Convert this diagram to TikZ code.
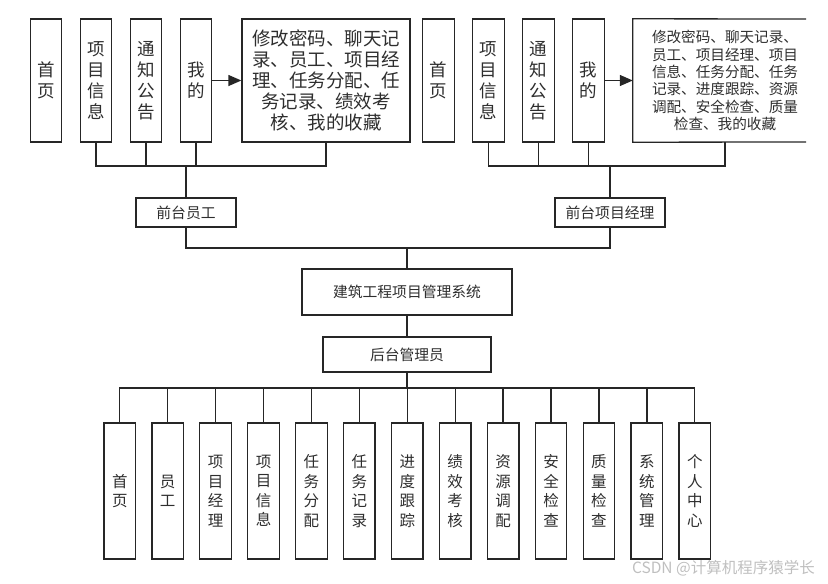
\documentclass[tikz,border=0pt]{standalone}
\usepackage{fontspec}
\setmainfont{Noto Sans CJK SC}
\usetikzlibrary{arrows.meta}
\definecolor{ln}{HTML}{262626}
\definecolor{tx}{HTML}{2E2E2E}
\tikzset{
  vbox/.style={draw=ln, line width=1.3pt, fill=white, text=tx, minimum width=31.5pt, minimum height=123pt, inner sep=0pt, align=center, font=\fontsize{17.5pt}{21pt}\selectfont},
  bbox/.style={draw=ln, line width=1.3pt, fill=white, text=tx, minimum width=31.5pt, minimum height=136pt, inner sep=0pt, align=center, font=\fontsize{15.5pt}{19.5pt}\selectfont},
  hbox/.style={draw=ln, line width=1.3pt, fill=white, text=tx, inner sep=0pt, align=center, font=\fontsize{14.8pt}{17pt}\selectfont},
  conn/.style={draw=ln, line width=1.3pt},
  arr/.style={draw=ln, line width=1.3pt, -{Triangle[length=13pt,width=11pt]}},
}
\begin{document}
\begin{tikzpicture}[x=1pt,y=-1pt]
\path[use as bounding box] (0,0) rectangle (828,584);
% top left group
\node[vbox] (L1) at (46,80.5) {首\\页};
\node[vbox] (L2) at (96,80.5) {项\\目\\信\\息};
\node[vbox] (L3) at (146,80.5) {通\\知\\公\\告};
\node[vbox] (L4) at (196,80.5) {我\\的};
\node[draw=ln, line width=1.3pt, text=tx, minimum width=168pt, minimum height=123pt, inner sep=0pt, align=center, font=\fontsize{18.5pt}{21pt}\selectfont] (L5) at (326,80.5)
  {修改密码、聊天记\\录、员工、项目经\\理、任务分配、任\\务记录、绩效考\\核、我的收藏};
\draw[arr] (L4.east) -- (L5.west);
% top right group
\node[vbox] (R1) at (438.5,80.5) {首\\页};
\node[vbox] (R2) at (488.5,80.5) {项\\目\\信\\息};
\node[vbox] (R3) at (538.5,80.5) {通\\知\\公\\告};
\node[vbox] (R4) at (588.5,80.5) {我\\的};
\node[text=tx, minimum width=184pt, minimum height=123pt, inner sep=0pt, align=center, font=\fontsize{14.6pt}{17.3pt}\selectfont] (R5) at (725,80.5)
  {修改密码、聊天记录、\\员工、项目经理、项目\\信息、任务分配、任务\\记录、进度跟踪、资源\\调配、安全检查、质量\\检查、我的收藏};
\draw[conn] (806,19) -- (R5.north west) -- (R5.south west) -- (806,142);
\draw[arr] (R4.east) -- (R5.west);
% role boxes
\node[hbox, minimum width=100pt, minimum height=29pt] (FE) at (186,212.5) {前台员工};
\node[hbox, minimum width=110pt, minimum height=29pt] (FM) at (610,212.5) {前台项目经理};
\node[hbox, minimum width=210pt, minimum height=46pt] (SYS) at (407,292) {建筑工程项目管理系统};
\node[hbox, minimum width=168pt, minimum height=35pt] (ADM) at (407,354.5) {后台管理员};
% top-left connectors
\coordinate (jL) at (186,166);
\draw[conn] (L2.south) |- (jL);
\draw[conn] (L5.south) |- (jL);
\draw[conn] (L3.south) -- (L3.south |- jL);
\draw[conn] (L4.south) -- (L4.south |- jL);
\draw[conn] (jL) -- (FE.north);
% top-right connectors
\coordinate (jR) at (610,166);
\draw[conn] (R2.south) |- (jR);
\draw[conn] (R5.south) |- (jR);
\draw[conn] (R3.south) -- (R3.south |- jR);
\draw[conn] (R4.south) -- (R4.south |- jR);
\draw[conn] (jR) -- (FM.north);
% middle
\coordinate (jM) at (407,248);
\draw[conn] (FE.south) |- (jM);
\draw[conn] (FM.south) |- (jM);
\draw[conn] (jM) -- (SYS.north);
\draw[conn] (SYS.south) -- (ADM.north);
% bottom boxes
\foreach \i/\t in {0/首\\页, 1/员\\工, 2/项\\目\\经\\理, 3/项\\目\\信\\息, 4/任\\务\\分\\配, 5/任\\务\\记\\录, 6/进\\度\\跟\\踪, 7/绩\\效\\考\\核, 8/资\\源\\调\\配, 9/安\\全\\检\\查, 10/质\\量\\检\\查, 11/系\\统\\管\\理, 12/个\\人\\中\\心}{
  \node[bbox] (B\i) at ({119.75+47.92*\i},491) {\t};
}
\coordinate (jB) at (407,388);
\draw[conn] (ADM.south) -- (jB);
\draw[conn] (B0.north) |- (jB);
\draw[conn] (B12.north) |- (jB);
\foreach \i in {1,...,11}{
  \draw[conn] (B\i.north) -- (B\i.north |- jB);
}
% watermark
\node[text=black!25, inner sep=0pt, anchor=east, font=\fontsize{15.5pt}{18pt}\selectfont] (wm) at (815,568) {CSDN @计算机程序猿学长};
\end{tikzpicture}
\end{document}
